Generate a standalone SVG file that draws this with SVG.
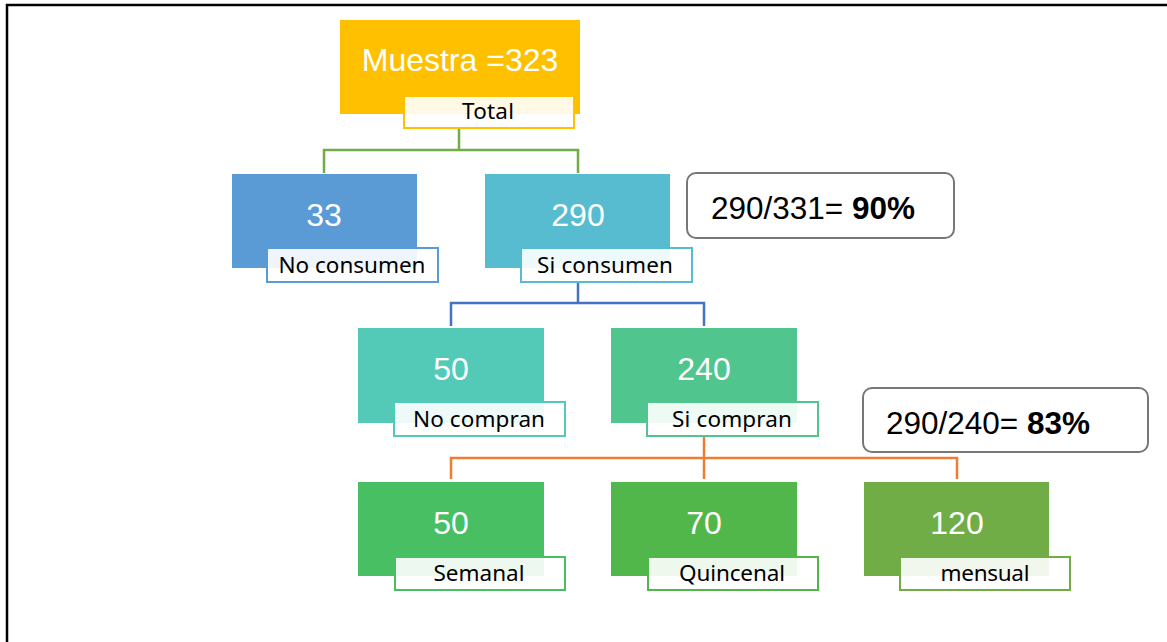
<svg xmlns="http://www.w3.org/2000/svg" width="1167" height="642" viewBox="0 0 1167 642">
  <style>
    .num { font-family: "Liberation Sans", Arial, sans-serif; font-size: 32px; fill: #ffffff; text-anchor: middle; }
    .lbl { font-family: "Noto Sans", "Open Sans", sans-serif; font-size: 22.5px; fill: #000000; text-anchor: middle; }
    .lblbox { fill: #ffffff; fill-opacity: 0.9; stroke-width: 2; }
    .conn { fill: none; stroke-width: 2.5; }
    .note { fill: #ffffff; stroke: #777777; stroke-width: 2; }
    .notetxt { font-family: "Liberation Sans", Arial, sans-serif; font-size: 31.5px; fill: #000000; }
  </style>

  <rect width="1167" height="642" fill="#ffffff"/>
  <!-- frame -->
  <path d="M7,642 V5 H1167" fill="none" stroke="#000000" stroke-width="2.5"/>

  <!-- connectors -->
  <g id="connectors">
    <path class="conn" stroke="#70AD47" d="M459,128 V150 M324,173 V150 H578 V173"/>
    <path class="conn" stroke="#4472C4" d="M578,282 V303 M451,326 V303 H704 V326"/>
    <path class="conn" stroke="#ED7D31" d="M704,436 V479 M451,479 V458 H957 V479"/>
  </g>

  <!-- root -->
  <g id="node-muestra">
    <rect x="340" y="20" width="240" height="94" fill="#FFC000"/>
    <text class="num" x="460" y="71">Muestra =323</text>
    <rect class="lblbox" x="404" y="96" width="170" height="32" stroke="#FFC000"/>
    <text class="lbl" x="488" y="119" textLength="52">Total</text>
  </g>

  <g id="node-no-consumen">
    <rect x="232" y="174" width="185" height="94" fill="#5B9BD5"/>
    <text class="num" x="324" y="226">33</text>
    <rect class="lblbox" x="267" y="248" width="171" height="34" stroke="#5B9BD5"/>
    <text class="lbl" x="352" y="273" textLength="147">No consumen</text>
  </g>

  <g id="node-si-consumen">
    <rect x="485" y="174" width="185" height="94" fill="#57BCCF"/>
    <text class="num" x="578" y="226">290</text>
    <rect class="lblbox" x="521" y="248" width="171" height="34" stroke="#57BCCF"/>
    <text class="lbl" x="605" y="273" textLength="136">Si consumen</text>
  </g>

  <g id="note-consumen">
    <rect class="note" x="687" y="173" width="267" height="65" rx="9"/>
    <text class="notetxt" x="711" y="219">290/331= <tspan font-weight="bold">90%</tspan></text>
  </g>

  <g id="node-no-compran">
    <rect x="358" y="328" width="186" height="95" fill="#53CAB8"/>
    <text class="num" x="451" y="380">50</text>
    <rect class="lblbox" x="394" y="402" width="171" height="34" stroke="#53CAB8"/>
    <text class="lbl" x="479" y="427" textLength="132">No compran</text>
  </g>

  <g id="node-si-compran">
    <rect x="611" y="328" width="186" height="95" fill="#50C58D"/>
    <text class="num" x="704" y="380">240</text>
    <rect class="lblbox" x="647" y="402" width="171" height="34" stroke="#50C58D"/>
    <text class="lbl" x="732" y="427" textLength="120">Si compran</text>
  </g>

  <g id="note-compran">
    <rect class="note" x="863" y="388" width="285" height="64" rx="9"/>
    <text class="notetxt" x="886" y="434">290/240= <tspan font-weight="bold">83%</tspan></text>
  </g>

  <g id="node-semanal">
    <rect x="358" y="482" width="186" height="94" fill="#48BF63"/>
    <text class="num" x="451" y="534">50</text>
    <rect class="lblbox" x="395" y="557" width="170" height="33" stroke="#48BF63"/>
    <text class="lbl" x="479" y="581" textLength="91">Semanal</text>
  </g>

  <g id="node-quincenal">
    <rect x="611" y="482" width="186" height="94" fill="#52B74A"/>
    <text class="num" x="704" y="534">70</text>
    <rect class="lblbox" x="648" y="557" width="170" height="33" stroke="#52B74A"/>
    <text class="lbl" x="732" y="581" textLength="106">Quincenal</text>
  </g>

  <g id="node-mensual">
    <rect x="864" y="482" width="185" height="94" fill="#70AD47"/>
    <text class="num" x="957" y="534">120</text>
    <rect class="lblbox" x="900" y="557" width="170" height="33" stroke="#70AD47"/>
    <text class="lbl" x="985" y="581" textLength="89">mensual</text>
  </g>
</svg>
